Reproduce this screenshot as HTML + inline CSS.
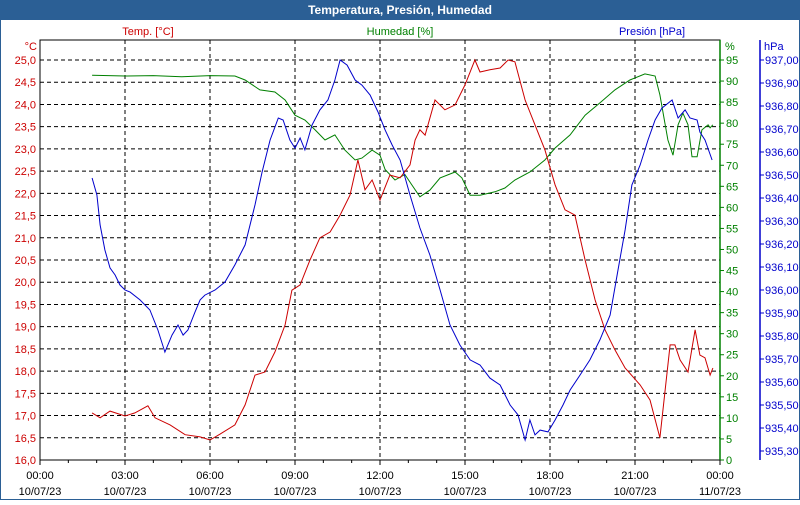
<!DOCTYPE html>
<html><head><meta charset="utf-8"><style>
body{margin:0;width:800px;height:500px;overflow:hidden;background:#fff;font-family:"Liberation Sans",sans-serif}
</style></head><body>
<svg id="chart" width="800" height="500" xmlns="http://www.w3.org/2000/svg" font-family="Liberation Sans, sans-serif" font-size="11">
<rect x="0.5" y="0.5" width="799" height="499" fill="#fff" stroke="#2b5f95"/>
<rect x="0" y="0" width="800" height="20" fill="#2b5f95"/>
<text x="400" y="14" text-anchor="middle" fill="#fff" font-weight="bold" font-size="12">Temperatura, Presión, Humedad</text>
<text x="148" y="35" text-anchor="middle" fill="#cc0000">Temp. [°C]</text>
<text x="400" y="35" text-anchor="middle" fill="#008000">Humedad [%]</text>
<text x="652" y="35" text-anchor="middle" fill="#0000cc">Presión [hPa]</text>
<text x="37" y="50" text-anchor="end" fill="#cc0000">°C</text>
<text x="725" y="50" fill="#008000">%</text>
<text x="764" y="50" fill="#0000cc">hPa</text>
<g id="grid"></g><g id="axes"></g><g id="series"></g>
</svg>
<script>
const NS="http://www.w3.org/2000/svg";
const tempTimes=[1.84,2.12,2.47,3.0,3.35,3.81,4.06,4.59,5.12,5.65,6.0,6.35,6.88,7.24,7.59,7.94,8.29,8.65,8.89,9.18,9.53,9.88,10.24,10.59,10.94,11.22,11.47,11.72,12.0,12.35,12.71,13.06,13.24,13.41,13.59,13.94,14.29,14.65,15.0,15.35,15.53,15.88,16.24,16.52,16.76,17.12,17.47,17.82,18.18,18.53,18.88,19.24,19.59,19.94,20.29,20.65,21.18,21.53,21.88,22.24,22.41,22.59,22.87,23.12,23.29,23.47,23.65,23.75];
const tempValues=[17.06,16.95,17.10,16.99,17.06,17.22,16.95,16.79,16.57,16.52,16.45,16.58,16.79,17.24,17.91,17.98,18.43,19.04,19.82,19.94,20.5,21.0,21.13,21.51,21.96,22.75,22.08,22.3,21.85,22.41,22.35,22.64,23.2,23.43,23.31,24.1,23.88,23.99,24.44,25.0,24.73,24.78,24.82,25.0,24.96,24.1,23.54,22.98,22.19,21.63,21.51,20.5,19.6,18.93,18.48,18.07,17.69,17.35,16.5,18.59,18.59,18.25,17.98,18.93,18.36,18.3,17.91,18.07];
const humTimes=[1.84,3.0,4.0,5.0,6.0,6.88,7.24,7.76,8.29,8.65,9.0,9.35,9.71,10.06,10.41,10.76,11.12,11.36,11.72,12.0,12.18,12.53,12.88,13.13,13.41,13.76,14.12,14.65,14.89,15.18,15.53,16.06,16.41,16.76,17.29,17.82,18.18,18.71,19.24,19.76,20.29,20.82,21.35,21.71,21.88,22.16,22.34,22.52,22.69,22.87,23.01,23.19,23.36,23.58,23.65,23.75];
const humValues=[91.4,91.2,91.3,91.0,91.3,91.2,90.25,87.9,87.4,85.5,81.9,80.75,78.4,76.0,77.2,73.6,71.25,71.7,73.6,72.4,69.0,66.5,67.8,65.3,62.5,64.1,67.0,68.4,67.0,62.9,62.9,63.7,64.6,66.5,68.4,71.25,74.1,77.2,81.9,84.8,87.9,90.25,91.7,91.2,86.7,76.0,72.4,79.6,82.4,79.6,72.0,72.0,78.4,79.6,78.9,79.6];
const presTimes=[1.84,2.01,2.12,2.29,2.47,2.65,2.82,3.0,3.18,3.53,3.88,4.16,4.41,4.66,4.87,5.05,5.22,5.47,5.65,5.82,6.18,6.53,6.88,7.24,7.59,7.84,8.12,8.41,8.58,8.82,9.0,9.18,9.35,9.6,9.88,10.16,10.41,10.59,10.84,11.12,11.36,11.65,11.93,12.18,12.43,12.71,13.06,13.41,13.76,14.12,14.47,14.82,15.18,15.53,15.88,16.24,16.59,16.87,17.12,17.29,17.47,17.65,17.93,18.18,18.46,18.71,19.06,19.41,19.76,20.12,20.4,20.65,20.89,21.18,21.46,21.71,21.95,22.31,22.52,22.77,22.94,23.19,23.29,23.47,23.72];
const presValues=[936.487,936.413,936.283,936.174,936.096,936.065,936.022,936.0,935.991,935.957,935.913,935.826,935.730,935.804,935.848,935.804,935.826,935.904,935.957,935.978,936.0,936.035,936.109,936.196,936.370,936.513,936.652,936.748,936.739,936.652,936.617,936.661,936.609,936.717,936.783,936.826,936.913,937.0,936.978,936.913,936.891,936.848,936.774,936.696,936.630,936.565,936.413,936.270,936.152,936.0,935.848,935.761,935.696,935.674,935.617,935.587,935.5,935.457,935.348,935.435,935.370,935.391,935.383,935.435,935.5,935.565,935.630,935.696,935.783,935.891,936.087,936.261,936.457,936.543,936.652,936.739,936.791,936.826,936.748,936.783,936.748,936.739,936.687,936.652,936.565];
const tempTicks=["16,0","16,5","17,0","17,5","18,0","18,5","19,0","19,5","20,0","20,5","21,0","21,5","22,0","22,5","23,0","23,5","24,0","24,5","25,0"];
const humTicks=[0,5,10,15,20,25,30,35,40,45,50,55,60,65,70,75,80,85,90,95];
const presTicks=["935,30","935,40","935,50","935,60","935,70","935,80","935,90","936,00","936,10","936,20","936,30","936,40","936,50","936,60","936,70","936,80","936,90","937,00"];
const timeTicks=["00:00","03:00","06:00","09:00","12:00","15:00","18:00","21:00","00:00"];
const dateTicks=["10/07/23","10/07/23","10/07/23","10/07/23","10/07/23","10/07/23","10/07/23","10/07/23","11/07/23"];
const L=40,R=720,T=40,B=460;
const xS=h=>L+h/24*(R-L);
const yT=v=>460-(v-16)/9*400;
const yH=v=>460-v/95*400;
const yP=v=>60+(937-v)*230;
function mk(tag,attrs,parent,txt){const e=document.createElementNS(NS,tag);for(const k in attrs)e.setAttribute(k,attrs[k]);if(txt!==undefined)e.textContent=txt;parent.appendChild(e);return e;}
const grid=document.getElementById('grid'),axes=document.getElementById('axes'),series=document.getElementById('series');
tempTicks.forEach((t,i)=>{const y=yT(16+i*0.5);
 if(i>0){const g=mk('line',{x1:L,x2:R,y1:y,y2:y,stroke:'#000','stroke-dasharray':'4,3'},grid);}
 const tx=mk('text',{x:36,y:y+4,'text-anchor':'end',fill:'#cc0000'},axes,t);});
humTicks.forEach(v=>{const y=yH(v);mk('line',{x1:720,x2:724,y1:y,y2:y,stroke:'#008000'},axes);
 const tx=mk('text',{x:726,y:y+4,fill:'#008000'},axes,v);});
presTicks.forEach((t,i)=>{const y=yP(935.3+i*0.1);mk('line',{x1:760,x2:764,y1:y,y2:y,stroke:'#0000cc'},axes);
 const tx=mk('text',{x:765,y:y+4,fill:'#0000cc'},axes,t);});
timeTicks.forEach((t,i)=>{const x=xS(i*3);
 if(i>0&&i<8){const g=mk('line',{x1:x,x2:x,y1:T,y2:B,stroke:'#000','stroke-dasharray':'4,3'},grid);}
 const a=mk('text',{x:x,y:479,'text-anchor':'middle',fill:'#000'},axes,t);
 const b=mk('text',{x:x,y:495,'text-anchor':'middle',fill:'#000'},axes,dateTicks[i]);});
for(let h=0;h<=24;h++){const x=xS(h);mk('line',{x1:x,x2:x,y1:B,y2:B+(h%3?3:5),stroke:'#000'},axes);}
const fr=mk('rect',{x:L,y:T,width:R-L,height:B-T,fill:'none',stroke:'#000'},axes);
const ga=mk('line',{x1:720,x2:720,y1:T,y2:B,stroke:'#008000','stroke-width':1.5},axes);
const pa=mk('line',{x1:760,x2:760,y1:T,y2:B,stroke:'#0000cc','stroke-width':1.5},axes);
function line(ts,vs,yf,col,name){const d=ts.map((t,i)=>(i?'L':'M')+xS(t).toFixed(1)+','+yf(vs[i]).toFixed(1)).join('');
 const p=mk('path',{d:d,fill:'none',stroke:col,'stroke-width':1},series);}
line(humTimes,humValues,yH,'#008000','humidity-line');
line(tempTimes,tempValues,yT,'#cc0000','temperature-line');
line(presTimes,presValues,yP,'#0000cc','pressure-line');
</script>
</body></html>
